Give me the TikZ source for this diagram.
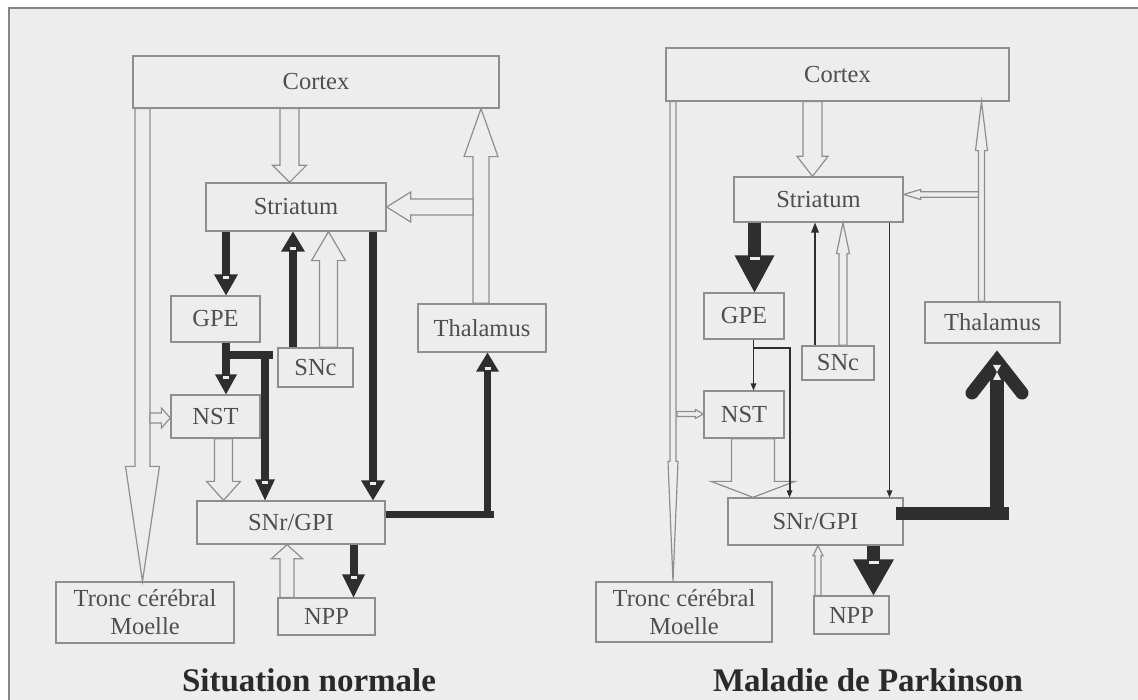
\documentclass[tikz,border=0pt]{standalone}
\usepackage{fontspec}
\setmainfont{Liberation Serif}
\usetikzlibrary{calc}
\definecolor{bgc}{HTML}{EDEDED}
\definecolor{edgec}{HTML}{8E8E8E}
\definecolor{txtc}{HTML}{4F4F4F}
\definecolor{blkc}{HTML}{2E2E2E}
\definecolor{framec}{HTML}{868686}
\definecolor{ttlc}{HTML}{2A2A2A}
\tikzset{
  box/.style={draw=edgec, line width=1.3pt, fill=bgc, inner sep=0pt, text=txtc,
    font=\fontsize{24.5}{28}\selectfont, align=center},
  hollow/.style={draw=edgec, fill=bgc, line width=1.2pt, line join=miter},
  blk/.style={draw=blkc, line cap=butt},
  blkfill/.style={fill=blkc},
  ttl/.style={text=ttlc, font=\fontsize{33}{38}\selectfont\bfseries},
  markline/.style={draw=bgc, line width=2.5pt},
}
% hollow arrow: #2 tail, #3 tip, #4 shaft half width, #5 head half width, #6 head length
\newcommand\hollowarrow[6][]{%
  \coordinate (hwA) at #2;
  \coordinate (hwB) at #3;
  \coordinate (hwH) at ($(hwB)!#6!(hwA)$);
  \filldraw[hollow,#1] ($(hwA)!#4!90:(hwB)$) -- ($(hwH)!#4!90:(hwB)$)
    -- ($(hwH)!#5!90:(hwB)$) -- (hwB) -- ($(hwH)!#5!-90:(hwB)$)
    -- ($(hwH)!#4!-90:(hwB)$) -- ($(hwA)!#4!-90:(hwB)$) -- cycle;
}
% black arrow: #2 tail, #3 tip, #4 line width, #5 head half width, #6 head length
\newcommand\blackarrow[6][]{%
  \coordinate (bkA) at #2;
  \coordinate (bkB) at #3;
  \coordinate (bkH) at ($(bkB)!#6!(bkA)$);
  \coordinate (bkI) at ($(bkH)!1pt!(bkB)$);
  \draw[blk, line width=#4, #1] (bkA) -- (bkI);
  \fill[blkfill] ($(bkH)!#5!90:(bkB)$) -- (bkB) -- ($(bkH)!#5!-90:(bkB)$) -- cycle;
}
\newcommand\whitemark[1]{%
  \coordinate (bkM) at ($(bkH)!3pt!(bkB)$);
  \draw[markline] ($(bkM)!#1!90:(bkB)$) -- ($(bkM)!#1!-90:(bkB)$);
}
\begin{document}
\begin{tikzpicture}[x=1pt,y=-1pt]
\useasboundingbox (0,0) rectangle (1138,700);
\fill[white] (0,0) rectangle (1138,700);
\fill[bgc] (9,8) rectangle (1145,705);
\draw[framec, line width=2.5pt] (9,705) -- (9,8) -- (1145,8);

% ================= LEFT: Situation normale =================
\node[box, minimum width=366pt, minimum height=52pt] (lcortex) at (316,82) {Cortex};
\node[box, minimum width=180pt, minimum height=48pt] (lstri) at (296,207) {Striatum};
\node[box, minimum width=89pt, minimum height=46pt] (lgpe) at (215.5,319) {GPE};
\node[box, minimum width=75pt, minimum height=39pt] (lsnc) at (315.5,367.5) {SNc};
\node[box, minimum width=89pt, minimum height=43pt] (lnst) at (215.5,416.5) {NST};
\node[box, minimum width=128pt, minimum height=48pt] (lthal) at (482,328) {Thalamus};
\node[box, minimum width=188pt, minimum height=43pt] (lsnr) at (291,522.5) {SNr/GPI};
\node[box, minimum width=97pt, minimum height=37pt] (lnpp) at (326.5,616.5) {NPP};
\node[box, minimum width=178pt, minimum height=61pt] (ltronc) at (145,612.5) {Tronc cérébral\\Moelle};
\node[ttl] (ltitle) at (309,680) {Situation normale};

\coordinate (lbranch) at (473,207);
\coordinate (lnstin) at (150,418);
\hollowarrow{(lcortex.south -| 289.5,0)}{(lstri.north -| 289.5,0)}{9.5pt}{17pt}{17pt}
\hollowarrow{(lthal.north -| 481,0)}{(lcortex.south -| 481,0)}{8pt}{17pt}{48pt}
\hollowarrow{(lbranch)}{(lstri.east)}{8pt}{15pt}{24pt}
\hollowarrow{(lcortex.south -| 142.5,0)}{(ltronc.north -| 142.5,0)}{7.5pt}{17pt}{115pt}
\hollowarrow{(lnstin)}{(lnst.west |- 0,418)}{5pt}{10pt}{9pt}
\hollowarrow{(lsnc.north -| 328.5,0)}{(lstri.south -| 328.5,0)}{9pt}{17pt}{29pt}
\hollowarrow{(lnst.south -| 223.5,0)}{(lsnr.north -| 223.5,0)}{9pt}{17pt}{19pt}
\hollowarrow{(lnpp.north -| 287,0)}{(lsnr.south -| 287,0)}{7pt}{15.5pt}{14pt}

\blackarrow{(lstri.south -| 226,0)}{(lgpe.north -| 226,0)}{8pt}{12pt}{21pt}\whitemark{3pt}
\blackarrow{(lsnc.north -| 293,0)}{(lstri.south -| 293,0)}{8pt}{12pt}{20pt}\whitemark{3pt}
\blackarrow{(lstri.south -| 373,0)}{(lsnr.north -| 373,0)}{8pt}{12pt}{20pt}\whitemark{3pt}
\blackarrow{(lgpe.south -| 226,0)}{(lnst.north -| 226,0)}{8pt}{11pt}{20pt}\whitemark{3pt}
\coordinate (lgpesplit) at (226,355);
\coordinate (lgpecorner) at (265,351);
\draw[blk, line width=8pt] (lgpesplit) -- (273,355);
\blackarrow{(lgpecorner)}{(lsnr.north -| 265,0)}{8pt}{10pt}{21pt}\whitemark{3pt}
\coordinate (lthalcorner) at (487.5,517.5);
\draw[blk, line width=7pt] (lsnr.east |- 0,514) -- (494,514);
\blackarrow{(lthalcorner)}{(lthal.south -| 487.5,0)}{7pt}{11.5pt}{19pt}\whitemark{3pt}
\blackarrow{(lsnr.south -| 353.5,0)}{(lnpp.north -| 353.5,0)}{8pt}{11.5pt}{23pt}\whitemark{3pt}

% ================= RIGHT: Maladie de Parkinson =================
\node[box, minimum width=343pt, minimum height=53pt] (rcortex) at (837.5,74.5) {Cortex};
\node[box, minimum width=169pt, minimum height=45pt] (rstri) at (818.5,199.5) {Striatum};
\node[box, minimum width=80pt, minimum height=46pt] (rgpe) at (744,316) {GPE};
\node[box, minimum width=72pt, minimum height=34pt] (rsnc) at (838,363) {SNc};
\node[box, minimum width=80pt, minimum height=47pt] (rnst) at (744,414.5) {NST};
\node[box, minimum width=135pt, minimum height=41pt] (rthal) at (992.5,322.5) {Thalamus};
\node[box, minimum width=175pt, minimum height=47pt] (rsnr) at (815.5,521.5) {SNr/GPI};
\node[box, minimum width=75pt, minimum height=38pt] (rnpp) at (851.5,615) {NPP};
\node[box, minimum width=176pt, minimum height=60pt] (rtronc) at (684,612) {Tronc cérébral\\Moelle};
\node[ttl] (rtitle) at (868,680) {Maladie de Parkinson};

\coordinate (rbranch) at (978.5,194.5);
\coordinate (rnstin) at (677,414);
\hollowarrow{(rcortex.south -| 812.5,0)}{(rstri.north -| 812.5,0)}{9.5pt}{15.5pt}{20pt}
\hollowarrow{(rthal.north -| 981.5,0)}{(rcortex.south -| 981.5,0)}{3pt}{6pt}{49pt}
\hollowarrow{(rbranch)}{(rstri.east |- 0,194.5)}{2.7pt}{5pt}{17pt}
\hollowarrow{(rcortex.south -| 673,0)}{(rtronc.north -| 673,0)}{3pt}{5pt}{120pt}
\hollowarrow{(rnstin)}{(rnst.west |- 0,414)}{2.5pt}{4.5pt}{8pt}
\hollowarrow{(rsnc.north -| 843,0)}{(rstri.south -| 843,0)}{4pt}{6.5pt}{31pt}
\hollowarrow{(rnst.south -| 753,0)}{(rsnr.north -| 753,0)}{21.5pt}{42pt}{16pt}
\hollowarrow{(rnpp.north -| 818,0)}{(rsnr.south -| 818,0)}{3pt}{5pt}{10pt}

\blackarrow{(rstri.south -| 754.5,0)}{(rgpe.north -| 754.5,0)}{13pt}{20pt}{37pt}\whitemark{5pt}
\blackarrow{(rsnc.north -| 815,0)}{(rstri.south -| 815,0)}{1.6pt}{4pt}{10pt}
\blackarrow{(rstri.south -| 889.5,0)}{(rsnr.north -| 889.5,0)}{1.6pt}{3pt}{7pt}
\blackarrow{(rgpe.south -| 753.5,0)}{(rnst.north -| 753.5,0)}{1.6pt}{3pt}{7pt}
\coordinate (rgpesplit) at (753.5,348);
\coordinate (rgpecorner) at (789.5,347);
\draw[blk, line width=2pt] (rgpesplit) -- (790.5,348);
\blackarrow{(rgpecorner)}{(rsnr.north -| 789.5,0)}{2pt}{3pt}{7pt}
\blackarrow{(rsnr.south -| 873.5,0)}{(rnpp.north -| 873.5,0)}{13pt}{20.5pt}{36pt}\whitemark{5pt}
% SNr/GPI -> Thalamus (very thick)
\coordinate (rthalcorner) at (997,520);
\coordinate (rthalhead) at (997,361);
\draw[blk, line width=13pt] (rsnr.east |- 0,513.5) ++(-8,0) -- (1009,513.5);
\draw[blk, line width=14pt] (rthalcorner) -- (997,366);
\draw[blk, line width=13pt, line cap=round, line join=miter] (972,393) -- (rthalhead) -- (1022,393);
\fill[bgc] (993,365) -- (1001,365) -- (997,372) -- (1001,380) -- (993,380) -- (997,372) -- cycle;
\end{tikzpicture}
\end{document}
